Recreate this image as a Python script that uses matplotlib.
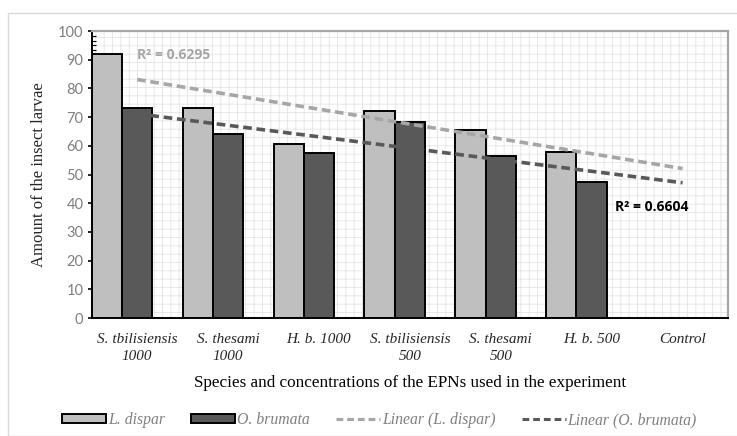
import numpy as np
import matplotlib
matplotlib.use("Agg")
import matplotlib.pyplot as plt
from matplotlib.ticker import MultipleLocator
from matplotlib.patches import Rectangle
from matplotlib.lines import Line2D

categories = ["S. tbilisiensis\n1000", "S. thesami\n1000", "H. b. 1000",
              "S. tbilisiensis\n500", "S. thesami\n500", "H. b. 500", "Control"]
l_dispar = [92, 73, 60.5, 72, 65.5, 58, np.nan]
o_brumata = [73, 64, 57.6, 68.4, 56.5, 47.3, np.nan]
r2_l_dispar = "R² = 0.6295"
r2_o_brumata = "R² = 0.6604"

plt.rcParams['hatch.color'] = '#e4e4e4'
plt.rcParams['hatch.linewidth'] = 0.6

fig = plt.figure(figsize=(7.37, 4.36), dpi=100)
fig.patches.append(Rectangle((8/737, 0), 1.0, 1 - 13/436, transform=fig.transFigure,
                             fill=False, edgecolor='#d9d9d9', linewidth=1.0))
ax = fig.add_axes([91.7/737, 1 - 318/436, (728 - 91.7)/737, (318 - 31)/436])

ax.patch.set_facecolor('white')
ax.patch.set_hatch('++')
ax.patch.set_edgecolor('#e4e4e4')
ax.patch.set_linewidth(0)

x = np.arange(len(categories))
w = 1/3
ax.bar(x - w, l_dispar, width=w, color='#bfbfbf', edgecolor='black', linewidth=1.4, zorder=2)
ax.bar(x, o_brumata, width=w, color='#595959', edgecolor='black', linewidth=1.4, zorder=2)

for vals, col in ((l_dispar, '#a6a6a6'), (o_brumata, '#595959')):
    v = np.array(vals, dtype=float)
    m = ~np.isnan(v)
    p = np.polyfit(x[m], v[m], 1)
    xs = np.array([x[0], x[-1]])
    ax.plot(xs, np.polyval(p, xs), color=col, linewidth=2.6, dashes=(2.4, 1.3), zorder=3)

ax.text(0.0, 91.6, r2_l_dispar, color='#a6a6a6', fontsize=10, fontweight='bold',
        family='Open Sans', va='center', ha='left', zorder=4)
ax.text(5.26, 38.7, r2_o_brumata, color='black', fontsize=10, fontweight='bold',
        family='Open Sans', va='center', ha='left', zorder=4)

ax.set_xlim(-0.5, len(categories) - 0.5)
ax.set_ylim(0, 100)
ax.yaxis.set_major_locator(MultipleLocator(10))
ax.yaxis.set_minor_locator(MultipleLocator(10/6))
ax.tick_params(axis='y', which='major', direction='inout', length=6, width=1.2,
               labelsize=10.5, labelcolor='#7f7f7f', pad=3)
ax.tick_params(axis='y', which='minor', direction='in', length=3, width=0.8)
for lab in ax.get_yticklabels():
    lab.set_family('Lato')

ax.set_xticks(x)
ax.set_xticklabels(categories, family='Liberation Serif', style='italic', fontsize=11,
                   linespacing=1.35, color='#262626')
ax.tick_params(axis='x', length=0, pad=11)

for s in ('left', 'bottom'):
    ax.spines[s].set_color('black')
    ax.spines[s].set_linewidth(1.4)
for s in ('top', 'right'):
    ax.spines[s].set_color('#a6a6a6')
    ax.spines[s].set_linewidth(1.6)

ax.set_ylabel("Amount of the insect larvae", family='Liberation Serif', fontsize=12,
              color='#262626', labelpad=8)
ax.set_xlabel("Species and concentrations of the EPNs used in the experiment",
              family='Liberation Serif', fontsize=12.3, color='black', labelpad=9)

handles = [
    Rectangle((0, 0), 1, 1, facecolor='#bfbfbf', edgecolor='black', linewidth=1.4),
    Rectangle((0, 0), 1, 1, facecolor='#595959', edgecolor='black', linewidth=1.4),
    Line2D([0], [0], color='#a6a6a6', linewidth=2.2, dashes=(2.2, 1.3)),
    Line2D([0], [0], color='#595959', linewidth=2.2, dashes=(2.2, 1.3)),
]
labels = ["L. dispar", "O. brumata", "Linear (L. dispar)", "Linear (O. brumata)"]
leg = fig.legend(handles, labels, loc='center', bbox_to_anchor=(0.515, 1 - 420/436),
                 ncol=4, frameon=False, handlelength=2.8, handleheight=0.45,
                 handletextpad=0.1, columnspacing=1.7,
                 prop={'family': 'Liberation Serif', 'style': 'italic', 'size': 11.3})
for t in leg.get_texts():
    t.set_color('#7f7f7f')

fig.savefig("out.png", dpi=100)
